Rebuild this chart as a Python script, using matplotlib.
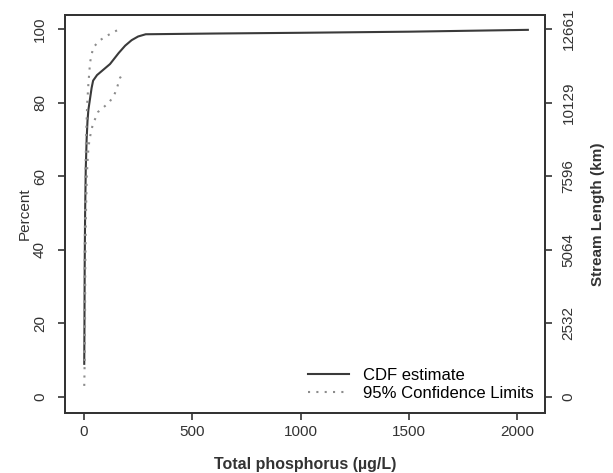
import matplotlib
matplotlib.use("Agg")
import matplotlib.pyplot as plt

plt.rcParams['font.family'] = ['Liberation Sans', 'DejaVu Sans']

# CDF estimate (Total phosphorus, ug/L vs percent)
cdf_x = [1, 2, 3, 5, 8, 12, 16, 20, 25, 30, 35, 42, 60, 90, 120, 140, 160, 190, 220, 250, 285, 600, 1000, 1500, 2050]
cdf_y = [9, 20, 35, 50, 62, 70, 75, 78, 80, 82, 84, 86, 87.5, 89, 90.5, 92, 93.5, 95.5, 97, 98, 98.6, 98.8, 99.0, 99.3, 99.8]

# 95% confidence limits
upper_x = [1, 3, 6, 10, 15, 20, 28, 42, 74, 129, 165]
upper_y = [12, 40, 60, 72, 80, 85, 91, 95, 97, 99, 100]
lower_x = [1, 2, 4, 6, 9, 13, 18, 25, 40, 65, 115, 139, 152, 166, 180]
lower_y = [3, 6, 15, 35, 50, 60, 66, 70, 74, 77.5, 80, 82, 84, 86.7, 88]

pct_ticks = [0, 20, 40, 60, 80, 100]
km_labels = ['0', '2532', '5064', '7596', '10129', '12661']
x_ticks = [0, 500, 1000, 1500, 2000]

fig = plt.figure(figsize=(6.13, 4.73), dpi=100)
ax = fig.add_axes([0.106, 0.127, 0.783, 0.841])

ax.plot(cdf_x, cdf_y, color='#3a3a3a', lw=1.5, label='CDF estimate')
ax.plot(upper_x, upper_y, color='#8c8c8c', lw=1.5, ls=(0, (1, 3)), label='95% Confidence Limits')
ax.plot(lower_x, lower_y, color='#8c8c8c', lw=1.5, ls=(0, (1, 3)))

ax.set_xlim(-88, 2129)
ax.set_ylim(-4.35, 103.8)
ax.set_xticks(x_ticks)
ax.set_yticks(pct_ticks)
ax.set_yticklabels([str(t) for t in pct_ticks], rotation=90, va='center')
ax.tick_params(labelsize=11, length=5, width=1.2, colors='#333333')
ax.tick_params(axis='y', pad=8)
for s in ax.spines.values():
    s.set_linewidth(1.3)
    s.set_color('#333333')
ax.set_xlabel('Total phosphorus (µg/L)', fontsize=11.5, fontweight='bold', color='#333333', labelpad=13)
ax.set_ylabel('Percent', fontsize=11, color='#333333', labelpad=1)

ax2 = ax.twinx()
ax2.set_ylim(ax.get_ylim())
ax2.set_yticks(pct_ticks)
ax2.set_yticklabels(km_labels, rotation=90, va='center')
ax2.tick_params(labelsize=11, length=5, width=1.2, colors='#333333', pad=7)
for s in ax2.spines.values():
    s.set_linewidth(1.3)
    s.set_color('#333333')
ax2.set_ylabel('Stream Length (km)', fontsize=11, fontweight='bold', color='#333333', rotation=90, labelpad=11)

ax.legend(loc='lower right', frameon=False, fontsize=12, handlelength=2.5,
          borderaxespad=0.3, labelspacing=0.2)

fig.savefig('out.png', dpi=100)
